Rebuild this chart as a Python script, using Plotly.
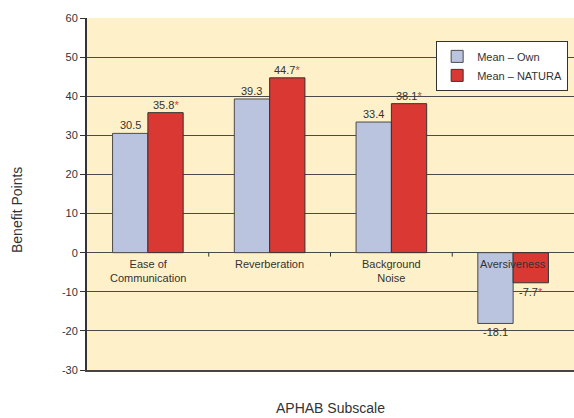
import plotly.graph_objects as go

# APHAB benefit scores per subscale
categories = ["Ease of<br>Communication", "Reverberation", "Background<br>Noise", "Aversiveness"]
own = [30.5, 39.3, 33.4, -18.1]
natura = [35.8, 44.7, 38.1, -7.7]
natura_significant = [True, True, True, True]
y_ticks = [-30, -20, -10, 0, 10, 20, 30, 40, 50, 60]

OWN_COLOR = "#BAC4DE"
NATURA_COLOR = "#D93833"
STAR_COLOR = "#E8343A"
TEXT_COLOR = "#333333"
FONT = "Arial, Liberation Sans, sans-serif"
BAR_W = 0.29

xs = list(range(len(categories)))

fig = go.Figure()
fig.add_bar(
    x=xs, y=own, width=BAR_W, offset=-BAR_W, name="Mean – Own",
    marker=dict(color=OWN_COLOR, line=dict(color="#4a4a4a", width=1)),
)
fig.add_bar(
    x=xs, y=natura, width=BAR_W, offset=0, name="Mean – NATURA",
    marker=dict(color=NATURA_COLOR, line=dict(color="#333333", width=1)),
)

annotations = []


def fmt(v):
    return f"{v:.1f}"


def value_label(x, v, star):
    txt = fmt(v)
    if star:
        txt += f'<span style="color:{STAR_COLOR}">*</span>'
    pos = v >= 0
    annotations.append(dict(
        x=x, y=v, xref="x", yref="y", text=txt, showarrow=False,
        xanchor="center", yanchor="bottom" if pos else "top",
        yshift=0 if pos else -1, xshift=0,
        font=dict(family=FONT, size=11, color=TEXT_COLOR),
    ))


for i in xs:
    value_label(i - BAR_W / 2, own[i], False)
    value_label(i + BAR_W / 2, natura[i], natura_significant[i])
    annotations.append(dict(
        x=i, y=0, xref="x", yref="y", text=categories[i], showarrow=False,
        xanchor="center", yanchor="top", yshift=-3,
        font=dict(family=FONT, size=11, color=TEXT_COLOR),
    ))

# axis titles
annotations.append(dict(
    x=-0.1437, y=0.4545, xref="paper", yref="paper", text="Benefit Points",
    textangle=-90, showarrow=False, xanchor="center", yanchor="middle",
    font=dict(family=FONT, size=14, color=TEXT_COLOR),
))
annotations.append(dict(
    x=0.499, y=-0.108, xref="paper", yref="paper", text="APHAB Subscale",
    showarrow=False, xanchor="center", yanchor="middle",
    font=dict(family=FONT, size=14, color=TEXT_COLOR),
))

# small separators between subscale groups on the zero line
shapes = [
    dict(type="line", xref="x", yref="y", x0=b, x1=b, y0=0, y1=-1,
         line=dict(color="#333333", width=1))
    for b in [0.5, 1.5, 2.5]
]

fig.update_layout(
    width=574, height=418,
    margin=dict(l=87, r=0, t=18, b=48, autoexpand=False),
    paper_bgcolor="white",
    plot_bgcolor="#FEF1C9",
    font=dict(family=FONT, size=11, color=TEXT_COLOR),
    barmode="overlay",
    showlegend=True,
    legend=dict(
        x=0.988, y=0.935, xanchor="right", yanchor="top",
        bgcolor="white", bordercolor="#333333", borderwidth=1,
        font=dict(family=FONT, size=11, color=TEXT_COLOR),
        itemwidth=30, tracegroupgap=0,
    ),
    xaxis=dict(
        range=[-0.5, 3.5], showticklabels=False, ticks="", showgrid=False,
        zeroline=False, showline=True, linecolor="#444444", linewidth=2,
        mirror=False,
    ),
    yaxis=dict(
        range=[-30, 60], tickvals=y_ticks, ticktext=[str(t) for t in y_ticks],
        ticks="outside", ticklen=5,
        tickcolor="#333333", showgrid=True, gridcolor="#4a4a4a", gridwidth=1,
        zeroline=True, zerolinecolor="#4a4a4a", zerolinewidth=1,
        showline=True, linecolor="#333333", linewidth=2,
        tickfont=dict(family=FONT, size=11, color=TEXT_COLOR),
    ),
    annotations=annotations,
    shapes=shapes,
)

fig.write_html("out.html")
